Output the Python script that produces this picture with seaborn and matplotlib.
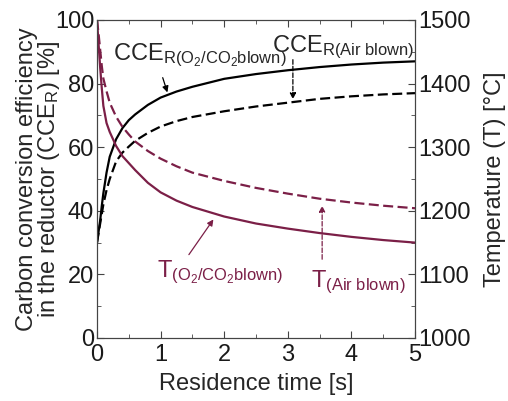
import matplotlib
matplotlib.use("Agg")

import pandas as pd
import numpy as np

import matplotlib.pyplot as plt
from matplotlib.ticker import AutoMinorLocator, MultipleLocator
import seaborn as sns

# residence time [s]
time_s = [0, 0.025, 0.05, 0.075, 0.1, 0.15, 0.2, 0.3, 0.4, 0.5, 0.6, 0.8, 1,
          1.25, 1.5, 2, 2.5, 3, 3.5, 4, 4.5, 5]

# carbon conversion efficiency [%]
cce_o2co2 = [30, 33.5, 37, 41.5, 45.5, 52, 57, 62.5, 66, 68.5, 70.3, 73.3, 75.6,
             77.5, 79, 81.5, 83, 84.2, 85.2, 86, 86.6, 87]
cce_air = [30, 33, 36, 39, 42, 46.5, 50, 55.5, 58.3, 60.2, 62, 64.5, 66.5,
           68.2, 69.5, 71.3, 72.8, 74, 75.2, 76, 76.6, 77]

# temperature [C]
temp_o2co2 = [1500, 1462, 1425, 1393, 1365, 1338, 1324, 1302, 1286, 1275, 1264, 1244, 1229,
              1216, 1206, 1191, 1180, 1172, 1165, 1159, 1154, 1150]
temp_air = [1500, 1478, 1453, 1428, 1408, 1388, 1370, 1348, 1332, 1320, 1309, 1294, 1282,
            1270, 1260, 1247, 1236, 1227, 1219, 1213, 1208, 1204]

x_ticks = [0, 1, 2, 3, 4, 5]
left_ticks = [0, 20, 40, 60, 80, 100]
right_ticks = [1000, 1100, 1200, 1300, 1400, 1500]

PURPLE = "#7b1f47"
FS = 17

sns.set_style("ticks")
plt.rcParams['font.family'] = ['Liberation Sans', 'DejaVu Sans']
plt.rcParams['mathtext.fontset'] = 'custom'
plt.rcParams['mathtext.rm'] = 'Liberation Sans'
plt.rcParams['mathtext.it'] = 'Liberation Sans:italic'
plt.rcParams['axes.edgecolor'] = '#444444'
plt.rcParams['xtick.color'] = '#444444'
plt.rcParams['ytick.color'] = '#444444'
plt.rcParams['xtick.labelcolor'] = '#1a1a1a'
plt.rcParams['ytick.labelcolor'] = '#1a1a1a'

df = pd.DataFrame({"t": time_s, "cce_o2": cce_o2co2, "cce_air": cce_air,
                   "T_o2": temp_o2co2, "T_air": temp_air})

fig = plt.figure(figsize=(5.08, 4.01), dpi=100)
ax = fig.add_axes([97 / 508, 1 - 338 / 401, (415 - 97) / 508, (338 - 20) / 401])
ax2 = ax.twinx()

dash = (4.5, 2)
sns.lineplot(data=df, x="t", y="cce_o2", ax=ax, color="black", lw=1.6)
sns.lineplot(data=df, x="t", y="cce_air", ax=ax, color="black", lw=1.6)
ax.lines[-1].set_dashes(dash)
sns.lineplot(data=df, x="t", y="T_o2", ax=ax2, color=PURPLE, lw=1.6)
sns.lineplot(data=df, x="t", y="T_air", ax=ax2, color=PURPLE, lw=1.6)
ax2.lines[-1].set_dashes(dash)

ax.set_xlim(0, 5)
ax.set_ylim(0, 100)
ax2.set_ylim(1000, 1500)
ax.set_xticks(x_ticks)
ax.set_yticks(left_ticks)
ax2.set_yticks(right_ticks)
ax.xaxis.set_minor_locator(AutoMinorLocator(2))
ax.yaxis.set_minor_locator(AutoMinorLocator(2))
ax2.yaxis.set_minor_locator(MultipleLocator(50))

ax.tick_params(which="both", direction="in", top=True, right=False, labelsize=FS, pad=2)
ax.tick_params(axis="x", pad=4.5)
ax.tick_params(which="major", length=5)
ax.tick_params(which="minor", length=3)
ax2.tick_params(which="both", direction="in", labelsize=FS, pad=2)
ax2.tick_params(which="major", length=5)
ax2.tick_params(which="minor", length=3)

ax.set_xlabel("Residence time [s]", fontsize=FS, labelpad=5)
ax.set_ylabel("Carbon conversion efficiency\nin the reductor (CCE$_\\mathregular{R}$) [%]",
              fontsize=FS, linespacing=0.9, labelpad=-5)
ax2.set_ylabel("Temperature (T) [°C]", fontsize=FS, labelpad=10)
for sp in ax2.spines.values():
    sp.set_color('#444444')

# labels with arrows
ax.annotate("", xy=(1.12, 76.4), xytext=(1.02, 82.7),
            arrowprops=dict(arrowstyle="-|>", color="black", lw=0.9, mutation_scale=9))
ax.text(0.25, 87.5, r"CCE$_{\rm R(O_2/CO_2blown)}$", fontsize=FS, ha="left", va="baseline")

ax.annotate("", xy=(3.08, 74.2), xytext=(3.08, 88.4),
            arrowprops=dict(arrowstyle="-|>", color="black", lw=0.9, ls="--", mutation_scale=9))
ax.text(2.75, 90, r"CCE$_{\rm R(Air\ blown)}$", fontsize=FS, ha="left", va="baseline")

ax.annotate("", xy=(1.855, 38), xytext=(1.42, 25.5),
            arrowprops=dict(arrowstyle="-|>", color=PURPLE, lw=0.9, mutation_scale=9))
ax.text(0.94, 19.2, r"T$_{\rm (O_2/CO_2blown)}$", fontsize=FS, ha="left", va="baseline", color=PURPLE)

ax.annotate("", xy=(3.54, 42.5), xytext=(3.54, 23.9),
            arrowprops=dict(arrowstyle="-|>", color=PURPLE, lw=0.9, ls="--", mutation_scale=9))
ax.text(3.36, 16, r"T$_{\rm (Air\ blown)}$", fontsize=FS, ha="left", va="baseline", color=PURPLE)

fig.savefig("out.png", dpi=100)
